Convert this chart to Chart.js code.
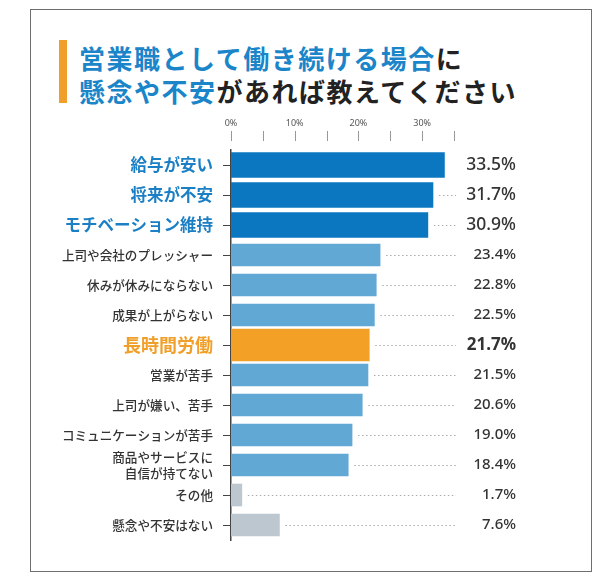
<!DOCTYPE html>
<html lang="ja">
<head>
<meta charset="utf-8">
<script src="https://cdn.jsdelivr.net/npm/chart.js@4.4.1/dist/chart.umd.min.js"></script>
<style>
body { margin: 0; background: #fff; width: 611px; height: 581px; overflow: hidden; position: relative; font-family: "Noto Sans CJK JP", sans-serif; }
#frame { position: absolute; left: 30px; top: 9px; width: 562px; height: 563px; border: 1.5px solid #6e6e6e; box-sizing: border-box; }
#mark { position: absolute; left: 59px; top: 40px; width: 8px; height: 63px; background: #f0a02a; }
#title { position: absolute; left: 79px; top: 41px; font-weight: 700; font-size: 26px; line-height: 33px; letter-spacing: 1.5px; color: #222; white-space: nowrap; }
#title .blue { color: #1a85c9; }
#chart { position: absolute; left: 0; top: 0; }
</style>
</head>
<body>
<div id="frame"></div>
<div id="mark"></div>
<div id="title"><span class="blue">営業職として働き続ける場合</span>に<br><span class="blue">懸念や不安</span>があれば教えてください</div>
<canvas id="chart" width="611" height="581"></canvas>
<script>
// 回答項目と割合(%)
const categories = ['給与が安い', '将来が不安', 'モチベーション維持', '上司や会社のプレッシャー', '休みが休みにならない', '成果が上がらない', '長時間労働', '営業が苦手', '上司が嫌い、苦手', 'コミュニケーションが苦手', ['商品やサービスに', '自信が持てない'], 'その他', '懸念や不安はない'];
const values = [33.5, 31.7, 30.9, 23.4, 22.8, 22.5, 21.7, 21.5, 20.6, 19.0, 18.4, 1.7, 7.6];
const groups = ['top', 'top', 'top', 'mid', 'mid', 'mid', 'focus', 'mid', 'mid', 'mid', 'mid', 'none', 'none'];
const xTickValues = [0, 10, 20, 30];

const groupStyle = {
    top: { color: '#0b77c1', thick: 25, labelColor: '#1a7fc5', labelSize: 16.5, labelWeight: 'bold', valueSize: 17.5, valueWeight: '500' },
    mid: { color: '#62a8d5', thick: 22, labelColor: '#333', labelSize: 12.6, labelWeight: '500', valueSize: 15, valueWeight: '500' },
    focus: { color: '#f2a126', thick: 32, labelColor: '#f0a02a', labelSize: 18, labelWeight: 'bold', valueSize: 17, valueWeight: 'bold' },
    none: { color: '#bcc7cf', thick: 22, labelColor: '#333', labelSize: 12.6, labelWeight: '500', valueSize: 15, valueWeight: '500' }
};

var datasets = Object.keys(groupStyle).map(function (g) {
    return {
        data: values.map(function (v, i) { return groups[i] === g ? v : null; }),
        backgroundColor: groupStyle[g].color,
        barThickness: groupStyle[g].thick,
        grouped: false
    };
});

// 右側の数値と点線、上部の目盛り線
const valueLabels = {
    id: 'valueLabels',
    afterDatasetsDraw(chart) {
        const ctx = chart.ctx;
        const xs = chart.scales.x;
        const ys = chart.scales.y;
        ctx.save();
        for (var i = 0; i < values.length; i++) {
            let st = groupStyle[groups[i]];
            let py = ys.getPixelForValue(i);
            let start = xs.getPixelForValue(values[i]) + 6;
            if (start < 450) {
                ctx.beginPath();
                ctx.setLineDash([1.5, 2.5]);
                ctx.strokeStyle = '#aaa';
                ctx.lineWidth = 1;
                ctx.moveTo(start, py + 0.5);
                ctx.lineTo(456, py + 0.5);
                ctx.stroke();
            }
            ctx.setLineDash([]);
            ctx.fillStyle = '#333';
            ctx.font = st.valueWeight + ' ' + st.valueSize + 'px "Noto Sans"';
            ctx.textAlign = 'right';
            ctx.textBaseline = 'middle';
            ctx.fillText(values[i].toFixed(1) + '%', 516, py);
        }
        let top = chart.chartArea.top;
        ctx.strokeStyle = '#999';
        ctx.lineWidth = 1;
        xs.ticks.forEach(function (t) {
            let px = Math.round(xs.getPixelForValue(t.value)) + 0.5;
            ctx.beginPath();
            ctx.moveTo(px, top - 19);
            ctx.lineTo(px, top - 9);
            ctx.stroke();
        });
        ctx.restore();
    }
};

new Chart(document.getElementById('chart'), {
    type: 'bar',
    data: { labels: categories, datasets: datasets },
    options: {
        responsive: false,
        animation: false,
        indexAxis: 'y',
        layout: { padding: { top: 110, left: 30, right: 157, bottom: 41 } },
        plugins: { legend: { display: false }, tooltip: { enabled: false } },
        scales: {
            x: {
                position: 'top',
                min: 0,
                max: 35,
                afterFit: function (s) { s.height = 40; },
                grid: { display: false, drawTicks: false },
                border: { display: false },
                ticks: {
                    stepSize: 5,
                    autoSkip: false,
                    maxRotation: 0,
                    padding: 21,
                    color: '#555',
                    font: { family: '"Noto Sans"', size: 9 },
                    callback: function (v) { return xTickValues.indexOf(v) >= 0 ? v + '%' : ''; }
                }
            },
            y: {
                afterFit: function (s) { s.width = 201; },
                grid: { drawOnChartArea: false, offset: false, tickLength: 8, tickColor: '#444', tickWidth: 1 },
                border: { color: '#444', width: 1.5 },
                ticks: {
                    padding: 10,
                    autoSkip: false,
                    color: function (c) { return groupStyle[groups[c.index]].labelColor; },
                    font: function (c) {
                        let st = groupStyle[groups[c.index]];
                        return { family: '"Noto Sans CJK JP"', size: st.labelSize, weight: st.labelWeight, lineHeight: 1.3 };
                    }
                }
            }
        }
    },
    plugins: [valueLabels]
});
</script>
</body>
</html>
